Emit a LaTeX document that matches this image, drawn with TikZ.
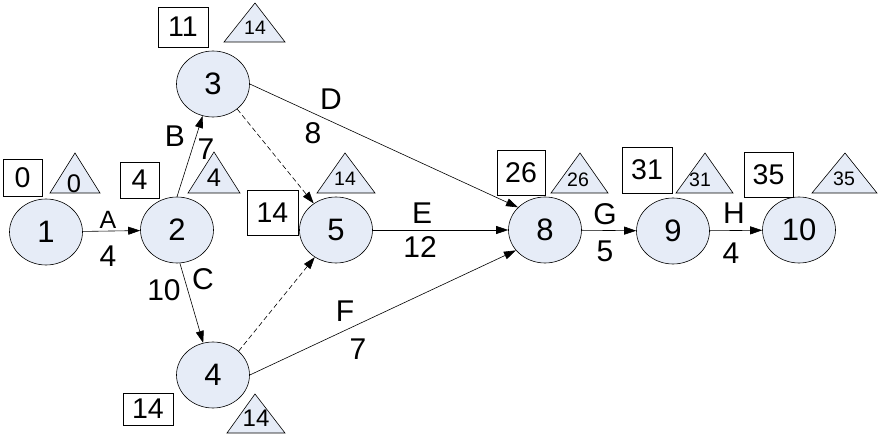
\documentclass[tikz,border=0pt]{standalone}
\usepackage{fontspec}
\setmainfont{Liberation Sans}
\usetikzlibrary{arrows.meta,shapes.geometric}
\definecolor{evfill}{RGB}{230,236,247}
\begin{document}
\begin{tikzpicture}[x=1pt,y=-1pt,
  ev/.style={draw, ellipse, fill=evfill, minimum width=73pt, minimum height=66pt, inner sep=0pt, line width=0.6pt, font=\fontsize{31}{35}\selectfont},
  early/.style={draw, fill=white, inner sep=0pt, line width=0.6pt, font=\fontsize{28.5}{32}\selectfont},
  tri/.style={draw, fill=evfill, line width=0.6pt},
  trinum/.style={inner sep=0pt, font=\fontsize{19.5}{23}\selectfont},
  trinumbig/.style={inner sep=0pt, font=\fontsize{25.5}{28}\selectfont},
  lab/.style={inner sep=0pt, font=\fontsize{30}{34}\selectfont},
  labsmall/.style={inner sep=0pt, font=\fontsize{25}{28}\selectfont},
  act/.style={line width=0.6pt, -{Triangle[length=12pt,width=8pt]}},
  dummy/.style={act, dashed, dash pattern=on 5pt off 3pt}
]
\useasboundingbox (0,0) rectangle (880,438);

% events
\node[ev] (n1) at (46,232) {1};
\node[ev] (n2) at (177,230) {2};
\node[ev] (n3) at (213,84) {3};
\node[ev] (n5) at (336,230) {5};
\node[ev] (n4) at (213,375) {4};
\node[ev] (n8) at (545,230) {8};
\node[ev] (n9) at (673,231) {9};
\node[ev] (n10) at (799,230) {10};

% earliest times (boxes)
\node[early, minimum width=39pt, minimum height=37pt] (b1) at (22.5,177.5) {0};
\node[early, minimum width=39pt, minimum height=36pt] (b2) at (139.5,180) {4};
\node[early, minimum width=50pt, minimum height=40pt] (b3) at (183,27) {11};
\node[early, minimum width=51pt, minimum height=45pt] (b5) at (272.5,212.5) {14};
\node[early, minimum width=50pt, minimum height=32pt] (b4) at (148,409) {14};
\node[early, minimum width=48pt, minimum height=45pt] (b8) at (521,172.5) {26};
\node[early, minimum width=50pt, minimum height=46pt] (b9) at (647,170) {31};
\node[early, minimum width=49pt, minimum height=45pt] (b10) at (768.5,174.5) {35};

% latest times (triangles)
\draw[tri] (75,153) -- (100,193) -- (50,193) -- cycle;
\node[trinumbig] (t1) at (74,184) {0};
\draw[tri] (214,152) -- (240,193) -- (188,193) -- cycle;
\node[trinumbig] (t2) at (214,178) {4};
\draw[tri] (255,3) -- (285,42) -- (224,42) -- cycle;
\node[trinum] (t3) at (255,28) {14};
\draw[tri] (345,153) -- (375,193) -- (317,193) -- cycle;
\node[trinum] (t5) at (345,179) {14};
\draw[tri] (255,394) -- (285,433) -- (227,433) -- cycle;
\node[trinum, font=\fontsize{24}{28}\selectfont] (t4) at (256,418) {14};
\draw[tri] (580,153) -- (608,193) -- (551,193) -- cycle;
\node[trinum] (t8) at (578,180) {26};
\draw[tri] (705,153) -- (733,193) -- (676,193) -- cycle;
\node[trinum] (t9) at (700,180) {31};
\draw[tri] (845,153) -- (877,193) -- (812,193) -- cycle;
\node[trinum] (t10) at (844,179) {35};

% activities
\draw[act] (n1) -- (n2);
\draw[act] (n2.north) -- (n3.252);
\draw[act] (n2.275) -- (n4.107);
\draw[act] (n3.east) -- (n8.140);
\draw[dummy] (n3.-46) -- (n5.130);
\draw[act] (n5) -- (n8);
\draw[act] (n4.east) -- (n8.215);
\draw[dummy] (n4.43) -- (n5.232);
\draw[act] (n8) -- (n9);
\draw[act] (n9) -- (n10);

% labels
\node[labsmall] (lA) at (108,220) {A};
\node[lab] (dA) at (108,256) {4};
\node[lab] (lB) at (175,136) {B};
\node[lab] (dB) at (206,149) {7};
\node[lab] (lC) at (203,279) {C};
\node[lab] (dC) at (164,290) {10};
\node[lab] (lD) at (331,99) {D};
\node[lab] (dD) at (313,133) {8};
\node[lab] (lE) at (422,213) {E};
\node[lab] (dE) at (420,247) {12};
\node[lab] (lF) at (345,311) {F};
\node[lab] (dF) at (358,349) {7};
\node[lab] (lG) at (605,214) {G};
\node[lab] (dG) at (605,251) {5};
\node[lab] (lH) at (734,213) {H};
\node[lab] (dH) at (731,253) {4};
\end{tikzpicture}
\end{document}
